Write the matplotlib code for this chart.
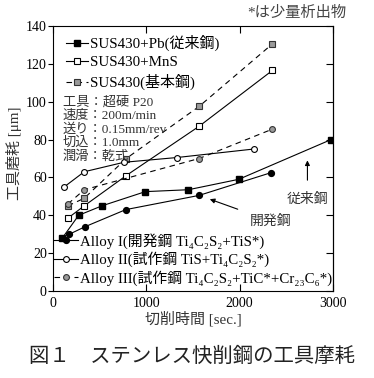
import matplotlib
matplotlib.use('Agg')
import matplotlib.pyplot as plt

plt.rcParams['font.family'] = ['Liberation Serif', 'Noto Sans CJK JP', 'DejaVu Serif']
plt.rcParams['axes.unicode_minus'] = False

# data (cutting time [sec], tool wear [um])
t_pb = [100, 275, 525, 990, 1450, 1990, 2980]
w_pb = [28, 40, 45, 52.5, 53.5, 59, 80]
t_mns = [160, 335, 785, 1565, 2350]
w_mns = [38.5, 45, 61, 87, 116.5]
t_base = [160, 335, 785, 1565, 2350]
w_base = [45, 49, 70, 97.5, 130.5]
t_a1 = [175, 345, 780, 1565, 2335]
w_a1 = [30, 34, 43, 50.5, 62.5]
t_a2 = [120, 335, 760, 1325, 2150]
w_a2 = [55, 63, 68, 70.5, 75]
t_a3 = [160, 335, 1565, 2350]
w_a3 = [46, 53.5, 70, 85.5]

xticks = [0, 1000, 2000, 3000]
yticks = list(range(0, 141, 20))
conditions = ['工具：超硬 P20', '速度：200m/min', '送り：0.15mm/rev', '切込：1.0mm', '潤滑：乾式']

fig = plt.figure(figsize=(3.74, 3.78), dpi=100)
ax = fig.add_axes([53 / 374, 1 - 291 / 378, 280 / 374, 265 / 378])

lw = 0.8
ms = 4.2
dash = (0, (5, 4))
h1, = ax.plot(t_pb, w_pb, '-s', color='black', lw=lw, ms=ms, mfc='black', mec='black')
h2, = ax.plot(t_mns, w_mns, '-s', color='black', lw=lw, ms=ms, mfc='white', mec='black', mew=0.8)
h3, = ax.plot(t_base, w_base, ls=dash, marker='s', color='black', lw=lw, ms=ms, mfc='#9a9a9a', mec='#333333', mew=0.8)
h4, = ax.plot(t_a1, w_a1, '-o', color='black', lw=lw, ms=ms, mfc='black', mec='black')
h5, = ax.plot(t_a2, w_a2, '-o', color='black', lw=lw, ms=ms, mfc='white', mec='black', mew=0.8)
h6, = ax.plot(t_a3, w_a3, ls=dash, marker='o', color='black', lw=lw, ms=ms, mfc='#9a9a9a', mec='#333333', mew=0.8)

ax.set_xlim(0, 3000)
ax.set_ylim(0, 140)
ax.set_xticks(xticks)
ax.set_yticks(yticks)
ax.tick_params(axis='x', direction='in', top=True, length=5, width=0.8,
               labelsize=10, pad=4)
ax.tick_params(axis='y', direction='out', right=False, length=3.5, width=0.8,
               labelsize=10, pad=1)
sec = ax.secondary_yaxis('right')
sec.set_yticks(yticks)
sec.tick_params(direction='in', length=5, width=0.8, labelright=False)
sec.spines['right'].set_linewidth(0.8)
for s in ax.spines.values():
    s.set_linewidth(0.8)

ax.set_xlabel('切削時間 [sec.]', fontsize=10.8, color='#333333', labelpad=1)
ax.set_ylabel('工具磨耗 [μm]', fontsize=10.8, color='#333333')
ax.yaxis.set_label_coords(-0.11, 0.52)

leg1 = ax.legend([h1, h2, h3], ['SUS430+Pb(従来鋼)', 'SUS430+MnS', 'SUS430(基本鋼)'],
                 loc='upper left', bbox_to_anchor=(0.045, 0.965), frameon=False,
                 fontsize=10.8, handlelength=1.5, handletextpad=0.15,
                 labelspacing=0.3, borderpad=0, borderaxespad=0)
ax.add_artist(leg1)
ax.legend([h4, h5, h6],
          ['Alloy I(開発鋼 Ti₄C₂S₂+TiS*)', 'Alloy II(試作鋼 TiS+Ti₄C₂S₂*)',
           'Alloy III(試作鋼 Ti₄C₂S₂+TiC*+Cr₂₃C₆*)'],
          loc='lower left', bbox_to_anchor=(0.005, 0.02), frameon=False,
          fontsize=10.7, handlelength=1.6, handletextpad=0.15,
          labelspacing=0.2, borderpad=0, borderaxespad=0)

ax.text(0.035, 0.735, '\n'.join(conditions), transform=ax.transAxes,
        fontsize=9.5, va='top', ha='left', linespacing=1.12, color='#333333')

ax.annotate('従来鋼', xy=(2726, 69), xytext=(2726, 48.5), ha='center', va='center',
            fontsize=10, color='#333333',
            arrowprops=dict(arrowstyle='-|>', color='black', lw=0.8,
                            shrinkA=7, shrinkB=0, mutation_scale=7))
ax.annotate('開発鋼', xy=(1680, 48.5), xytext=(2330, 37), ha='center', va='center',
            fontsize=10, color='#333333',
            arrowprops=dict(arrowstyle='-|>', color='black', lw=0.8,
                            shrinkA=7, shrinkB=0, mutation_scale=7))

fig.text(346 / 374, 1 - 13 / 378, '*は少量析出物', ha='right', va='center',
         fontsize=11, color='#444444')
fig.text(192 / 374, 1 - 357 / 378, '図１　ステンレス快削鋼の工具摩耗', ha='center',
         va='center', fontsize=14.7, color='#222222')

fig.savefig('out.png', dpi=100)
